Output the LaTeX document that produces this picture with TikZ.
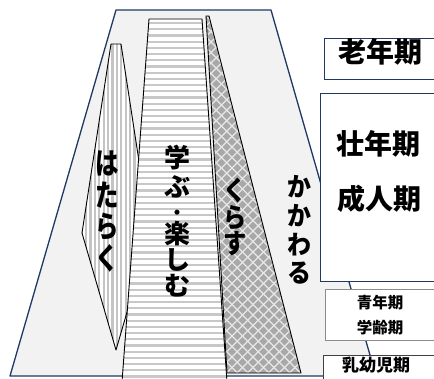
\documentclass[tikz,border=0pt]{standalone}
\usepackage{fontspec}
\newfontfamily\jp{Noto Sans CJK JP}
\definecolor{navy}{RGB}{32,56,100}
\definecolor{bgray}{RGB}{242,242,242}
\definecolor{sgray}{RGB}{196,196,196}
\definecolor{hgray}{RGB}{200,200,200}
\definecolor{kgray}{RGB}{168,168,168}
\definecolor{lat}{RGB}{232,232,232}
\tikzset{
  jch/.style={inner sep=0pt, text height=0.76em, text depth=0em, font=\jp\bfseries},
  outline/.style={draw=black, line width=0.9pt, line join=round},
  agebox/.style={fill=white, line width=0.8pt},
}
\begin{document}
\begin{tikzpicture}[x=1pt,y=-1pt]
\useasboundingbox (0,0) rectangle (434,378);
\clip (0,0) rectangle (434,378);
% big trapezoid
\fill[bgray] (116,10) -- (271,10) -- (376,376) -- (10,376) -- cycle;
\draw[navy, line width=1.3pt, line join=round] (116,10) -- (271,10) -- (376,376) -- (10,376) -- cycle;
% hataraku (vertical stripes)
\begin{scope}
  \clip (111,44) -- (121,44) -- (150,233) -- (116,350) -- (82,233) -- cycle;
  \fill[white] (80,40) rectangle (155,355);
  \foreach \k in {0,...,17} \fill[sgray] (80.5+\k*4.4,40) rectangle (82.8+\k*4.4,355);
\end{scope}
\draw[outline] (111,44) -- (121,44) -- (150,233) -- (116,350) -- (82,233) -- cycle;
% manabu (horizontal stripes)
\begin{scope}
  \clip (149,19) -- (202,19) -- (227,382) -- (122,382) -- cycle;
  \fill[white] (115,15) rectangle (235,385);
  \foreach \k in {0,...,58} \fill[hgray] (115,22+\k*6.2) rectangle (235,24.2+\k*6.2);
\end{scope}
\draw[outline] (122,382) -- (149,19) -- (202,19) -- (227,382);
% kurasu (lattice)
\begin{scope}
  \clip (206,16) -- (209,16) -- (301,373) -- (227,373) -- cycle;
  \fill[kgray] (200,10) rectangle (310,380);
  \foreach \k in {-40,...,12} {
    \draw[lat, line width=1.1pt] (200+\k*10.5,10) -- (570+\k*10.5,380);
    \draw[lat, line width=1.1pt] (200+\k*10.5+400,10) -- (-170+\k*10.5+400,380);
  }
\end{scope}
\draw[outline] (206,16) -- (209,16) -- (301,373) -- (227,373) -- cycle;
% vertical texts
\foreach \c/\y [count=\i] in {は/171,た/203,ら/234,く/266}
  \node[jch, font=\jp\bfseries\fontsize{30}{30}\selectfont] (ha\i) at (107,\y) {\scalebox{0.78}[1]{\c}};
\foreach \c/\y [count=\i] in {学/164,ぶ/193,楽/240,し/266,む/292}
  \node[jch, font=\jp\bfseries\fontsize{26}{26}\selectfont] (ma\i) at (177.5,\y) {\c};
\node[jch, font=\jp\bfseries\fontsize{18}{18}\selectfont] (madot) at (177.5,215.5) {・};
\foreach \c/\y [count=\i] in {く/197,ら/223.5,す/250}
  \node[jch, font=\jp\bfseries\fontsize{27}{27}\selectfont] (ku\i) at (235,\y) {\scalebox{0.86}[1]{\c}};
\foreach \c/\y [count=\i] in {か/193,か/222,わ/251,る/279}
  \node[jch, font=\jp\bfseries\fontsize{26}{26}\selectfont] (ka\i) at (299,\y) {\scalebox{0.92}[1]{\c}};
% age boxes
\draw[agebox, draw=navy] (324,38) rectangle (440,79);
\draw[agebox, draw=navy] (320,93) rectangle (440,281);
\draw[agebox, draw=black!45] (325,289) rectangle (440,340);
\draw[agebox, draw=black!75, line width=1pt] (323,355) rectangle (440,395);
\node[jch, font=\jp\bfseries\fontsize{28}{28}\selectfont] (rou) at (380,59) {老年期};
\node[jch, font=\jp\bfseries\fontsize{28}{28}\selectfont] (sou) at (378.5,151) {壮年期};
\node[jch, font=\jp\bfseries\fontsize{28}{28}\selectfont] (sei) at (379.5,206) {成人期};
\node[jch, font=\jp\bfseries\fontsize{15.5}{15.5}\selectfont] (sein) at (380,305) {青年期};
\node[jch, font=\jp\bfseries\fontsize{15.5}{15.5}\selectfont] (gaku) at (380,330) {学齢期};
\node[jch, font=\jp\bfseries\fontsize{17}{17}\selectfont] (nyu) at (376,368) {乳幼児期};
\end{tikzpicture}
\end{document}
